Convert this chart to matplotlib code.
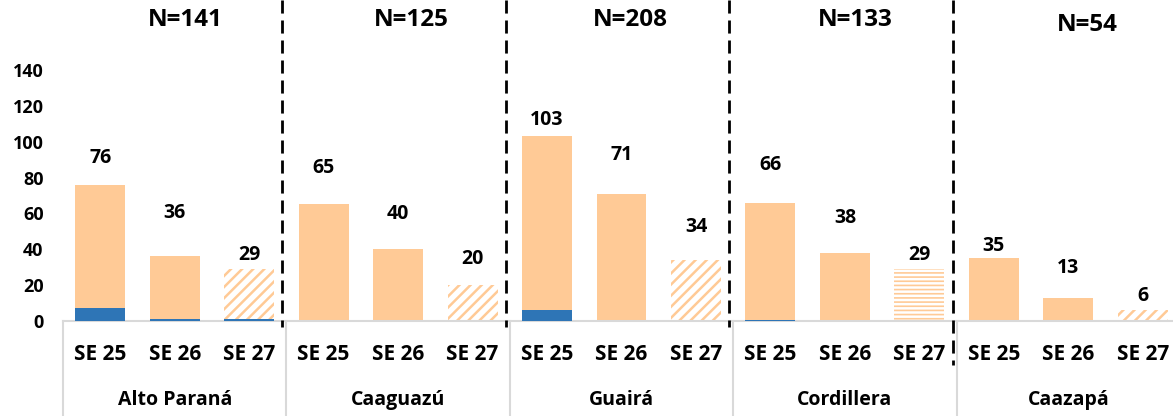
import matplotlib
matplotlib.use("Agg")
import matplotlib.pyplot as plt
import numpy as np

# data
regions = ["Alto Paraná", "Caaguazú", "Guairá", "Cordillera", "Caazapá"]
weeks = ["SE 25", "SE 26", "SE 27"]
totals_n = [141, 125, 208, 133, 54]
totals = [76, 36, 29, 65, 40, 20, 103, 71, 34, 66, 38, 29, 35, 13, 6]
blue = [7, 1, 1, 0, 0, 0, 6, 0, 0, 0.5, 0, 0, 0, 0, 0]

# layout bits (label offsets above bar tops, px)
lab_off = [27, 43, 14, 36, 35, 26, 16, 39, 33, 38, 35, 14, 12, 30, 14]
title_dx = [0.14, 0.18, 0.12, 0.14, 0.25]
title_y = [168, 168, 168, 168, 165]

ORANGE = "#FFCA96"
BLUE = "#2E75B6"
GREY = "#D9D9D9"

plt.rcParams['font.family'] = ['Open Sans', 'DejaVu Sans']
plt.rcParams['font.weight'] = 'bold'
plt.rcParams['lines.scale_dashes'] = False
plt.rcParams['hatch.linewidth'] = 1.8

W, H = 1173, 416
fig = plt.figure(figsize=(W/100.0, H/100.0), dpi=100)
# axes from x=63px to 1180px (last group runs off the edge), y 0..321px
x0, x1, ybot = 63, 1180, 321
ax = fig.add_axes([x0/W, (H-ybot)/H, (x1-x0)/W, ybot/H])

ymax = ybot/1.793
ax.set_ylim(0, ymax)
ax.set_xlim(-0.5, 14.5)

pos = np.arange(len(totals))
tot = np.array(totals, dtype=float)
bl = np.array(blue, dtype=float)
bw = 0.67

for i in pos:
    if i % 3 == 2:
        hatch = '----' if i == 11 else '///'
        b = ax.bar(i, tot[i] - bl[i], bw, bottom=bl[i], color='white',
                   edgecolor=ORANGE, linewidth=0, hatch=hatch, zorder=2)
        if hasattr(b[0], 'set_hatch_linewidth'):
            b[0].set_hatch_linewidth(1.2 if i == 11 else 1.8)
    else:
        ax.bar(i, tot[i] - bl[i], bw, bottom=bl[i], color=ORANGE, linewidth=0, zorder=2)
    if bl[i] > 0:
        ax.bar(i, bl[i], bw, color=BLUE, linewidth=0, zorder=3)
    ax.annotate(str(totals[i]), (i, tot[i]), xytext=(0, lab_off[i]*0.72),
                textcoords='offset points', ha='center', va='center',
                fontsize=14, fontweight='bold')

# group titles
for g in range(len(regions)):
    ax.text(3*g + 1 + title_dx[g], title_y[g], "N=%d" % totals_n[g],
            ha='center', va='center', fontsize=17.5, fontweight='bold')

# y axis
ax.set_yticks(range(0, 141, 20))
ax.tick_params(axis='y', length=0, pad=14, labelsize=13)
for t in ax.get_yticklabels():
    t.set_fontweight('bold')
ax.set_xticks([])

for s in ['left', 'right', 'top']:
    ax.spines[s].set_visible(False)
ax.spines['bottom'].set_color(GREY)
ax.spines['bottom'].set_linewidth(1.5)

trans = ax.get_xaxis_transform()
fr = lambda px: (ybot - px)/float(ybot)

# week and region labels under the axis
for i in pos:
    ax.text(i, fr(355), weeks[i % 3], transform=trans, ha='center', va='center',
            fontsize=15, fontweight='bold')
for g in range(len(regions)):
    ax.text(3*g + 1, fr(400), regions[g], transform=trans, ha='center', va='center',
            fontsize=14, fontweight='bold')

# grey separators below the axis
for g in range(len(regions) + 1):
    ax.plot([3*g - 0.5, 3*g - 0.5], [0, fr(H)], transform=trans, color=GREY,
            lw=1.5, clip_on=False, zorder=1)

# dashed black region dividers
dash_end = [327, 327, 327, 365]
for g in range(1, len(regions)):
    ln, = ax.plot([3*g - 0.555]*2, [1, fr(dash_end[g-1])], transform=trans,
                  color='black', lw=2, clip_on=False, zorder=4)
    ln.set_dashes((9.4, 5))

plt.savefig("out.png", dpi=100)
